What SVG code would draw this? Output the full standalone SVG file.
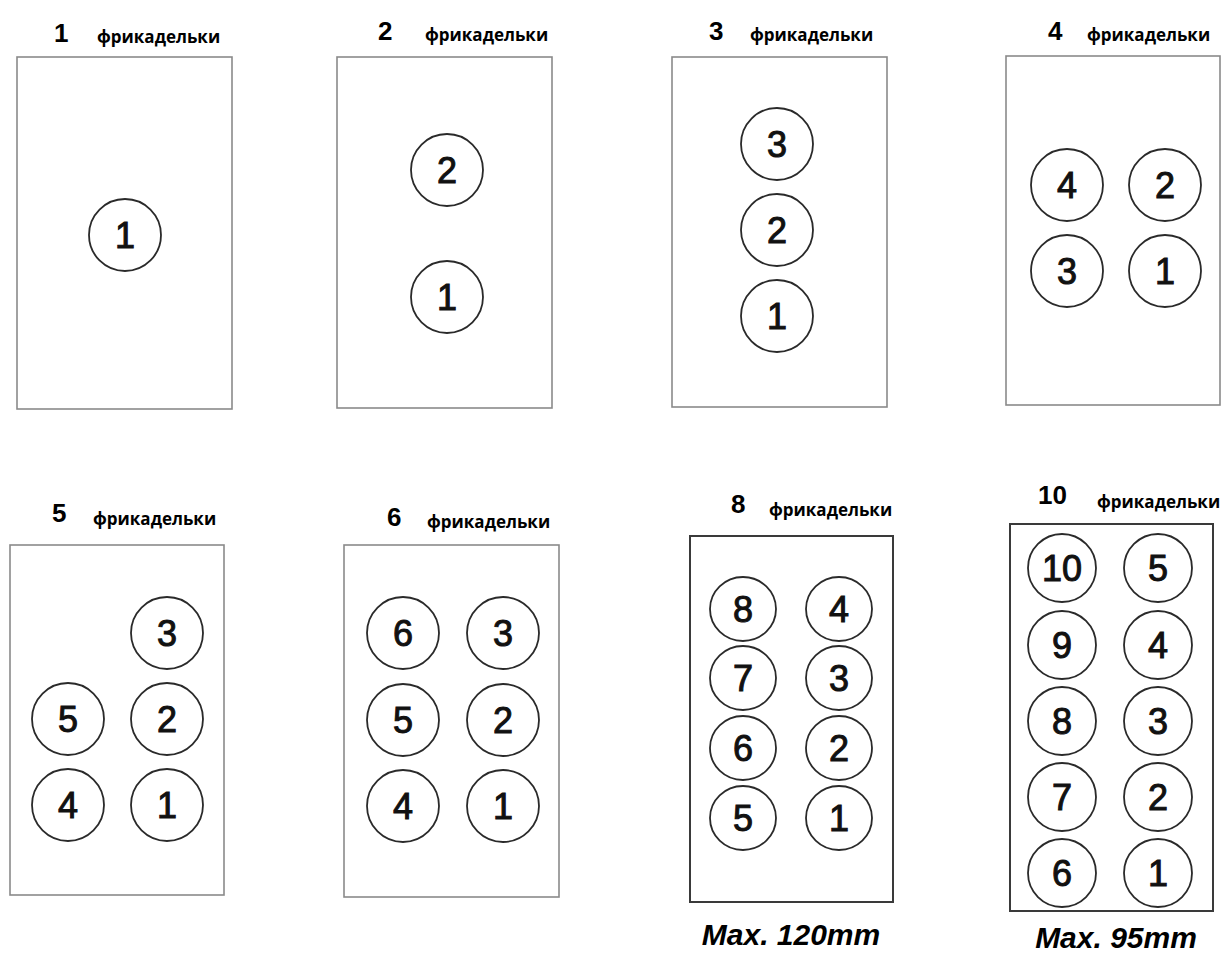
<svg xmlns="http://www.w3.org/2000/svg" width="1222" height="956" viewBox="0 0 1222 956">
<style>
.bg{fill:#fff}
.tray{fill:#fff;stroke:#8a8a8a;stroke-width:1.6}
.tray2{fill:#fff;stroke:#3a3a3a;stroke-width:2}
.ball{fill:#fff;stroke:#2a2a2a;stroke-width:1.8}
.num{font-family:"Liberation Sans",Arial,sans-serif;font-size:36px;fill:#111;stroke:#111;stroke-width:1;text-anchor:middle}
.hn{font-family:"Liberation Sans",Arial,sans-serif;font-size:26px;font-weight:bold;fill:#000}
.lbl{font-family:"Open Sans","Noto Sans",sans-serif;font-size:17px;font-weight:bold;fill:#000}
.max{font-family:"Liberation Sans",Arial,sans-serif;font-size:30px;font-weight:bold;font-style:italic;fill:#000;text-anchor:middle}
</style>
<rect class="bg" x="0" y="0" width="1222" height="956"/>
<g id="connectors"/>
<g id="panel1">
<text class="hn" x="54" y="42">1</text><text class="lbl" x="97" y="43">фрикадельки</text>
<rect class="tray" x="17" y="57" width="215" height="352"/>
<circle class="ball" cx="125" cy="235" r="36"/><text class="num" x="125" y="248">1</text>
</g>
<g id="panel2">
<text class="hn" x="378" y="40">2</text><text class="lbl" x="425" y="41">фрикадельки</text>
<rect class="tray" x="337" y="57" width="215" height="351"/>
<circle class="ball" cx="447" cy="170" r="36"/><text class="num" x="447" y="183">2</text>
<circle class="ball" cx="447" cy="297" r="36"/><text class="num" x="447" y="310">1</text>
</g>
<g id="panel3">
<text class="hn" x="709" y="40">3</text><text class="lbl" x="750" y="41">фрикадельки</text>
<rect class="tray" x="672" y="57" width="215" height="350"/>
<circle class="ball" cx="777" cy="144" r="36"/><text class="num" x="777" y="157">3</text>
<circle class="ball" cx="777" cy="230" r="36"/><text class="num" x="777" y="243">2</text>
<circle class="ball" cx="777" cy="316" r="36"/><text class="num" x="777" y="329">1</text>
</g>
<g id="panel4">
<text class="hn" x="1048" y="40">4</text><text class="lbl" x="1087" y="41">фрикадельки</text>
<rect class="tray" x="1006" y="56" width="214" height="349"/>
<circle class="ball" cx="1067" cy="185" r="36"/><text class="num" x="1067" y="198">4</text>
<circle class="ball" cx="1165" cy="185" r="36"/><text class="num" x="1165" y="198">2</text>
<circle class="ball" cx="1067" cy="271" r="36"/><text class="num" x="1067" y="284">3</text>
<circle class="ball" cx="1165" cy="271" r="36"/><text class="num" x="1165" y="284">1</text>
</g>
<g id="panel5">
<text class="hn" x="52" y="522">5</text><text class="lbl" x="93" y="525">фрикадельки</text>
<rect class="tray" x="10" y="545" width="214" height="350"/>
<circle class="ball" cx="167" cy="633" r="36"/><text class="num" x="167" y="646">3</text>
<circle class="ball" cx="167" cy="719" r="36"/><text class="num" x="167" y="732">2</text>
<circle class="ball" cx="167" cy="805" r="36"/><text class="num" x="167" y="818">1</text>
<circle class="ball" cx="68" cy="719" r="36"/><text class="num" x="68" y="732">5</text>
<circle class="ball" cx="68" cy="805" r="36"/><text class="num" x="68" y="818">4</text>
</g>
<g id="panel6">
<text class="hn" x="387" y="526">6</text><text class="lbl" x="427" y="528">фрикадельки</text>
<rect class="tray" x="344" y="545" width="215" height="352"/>
<circle class="ball" cx="403" cy="633" r="36"/><text class="num" x="403" y="646">6</text>
<circle class="ball" cx="503" cy="633" r="36"/><text class="num" x="503" y="646">3</text>
<circle class="ball" cx="403" cy="720" r="36"/><text class="num" x="403" y="733">5</text>
<circle class="ball" cx="503" cy="720" r="36"/><text class="num" x="503" y="733">2</text>
<circle class="ball" cx="403" cy="806" r="36"/><text class="num" x="403" y="819">4</text>
<circle class="ball" cx="503" cy="806" r="36"/><text class="num" x="503" y="819">1</text>
</g>
<g id="panel8">
<text class="hn" x="731" y="513">8</text><text class="lbl" x="769" y="516">фрикадельки</text>
<rect class="tray2" x="690" y="536" width="203" height="366"/>
<ellipse class="ball" cx="743" cy="609" rx="33" ry="32"/><text class="num" x="743" y="622">8</text>
<ellipse class="ball" cx="839" cy="609" rx="33" ry="32"/><text class="num" x="839" y="622">4</text>
<ellipse class="ball" cx="743" cy="678" rx="33" ry="32"/><text class="num" x="743" y="691">7</text>
<ellipse class="ball" cx="839" cy="678" rx="33" ry="32"/><text class="num" x="839" y="691">3</text>
<ellipse class="ball" cx="743" cy="748" rx="33" ry="32"/><text class="num" x="743" y="761">6</text>
<ellipse class="ball" cx="839" cy="748" rx="33" ry="32"/><text class="num" x="839" y="761">2</text>
<ellipse class="ball" cx="743" cy="818" rx="33" ry="32"/><text class="num" x="743" y="831">5</text>
<ellipse class="ball" cx="839" cy="818" rx="33" ry="32"/><text class="num" x="839" y="831">1</text>
<text class="max" x="791" y="945">Max. 120mm</text>
</g>
<g id="panel10">
<text class="hn" x="1038" y="504">10</text><text class="lbl" x="1097" y="508">фрикадельки</text>
<rect class="tray2" x="1010" y="524" width="203" height="387"/>
<circle class="ball" cx="1062" cy="568" r="34"/><text class="num" x="1062" y="581">10</text>
<circle class="ball" cx="1158" cy="568" r="34"/><text class="num" x="1158" y="581">5</text>
<circle class="ball" cx="1062" cy="645" r="34"/><text class="num" x="1062" y="658">9</text>
<circle class="ball" cx="1158" cy="645" r="34"/><text class="num" x="1158" y="658">4</text>
<circle class="ball" cx="1062" cy="721" r="34"/><text class="num" x="1062" y="734">8</text>
<circle class="ball" cx="1158" cy="721" r="34"/><text class="num" x="1158" y="734">3</text>
<circle class="ball" cx="1062" cy="797" r="34"/><text class="num" x="1062" y="810">7</text>
<circle class="ball" cx="1158" cy="797" r="34"/><text class="num" x="1158" y="810">2</text>
<circle class="ball" cx="1062" cy="873" r="34"/><text class="num" x="1062" y="886">6</text>
<circle class="ball" cx="1158" cy="873" r="34"/><text class="num" x="1158" y="886">1</text>
<text class="max" x="1116" y="948">Max. 95mm</text>
</g>
</svg>
